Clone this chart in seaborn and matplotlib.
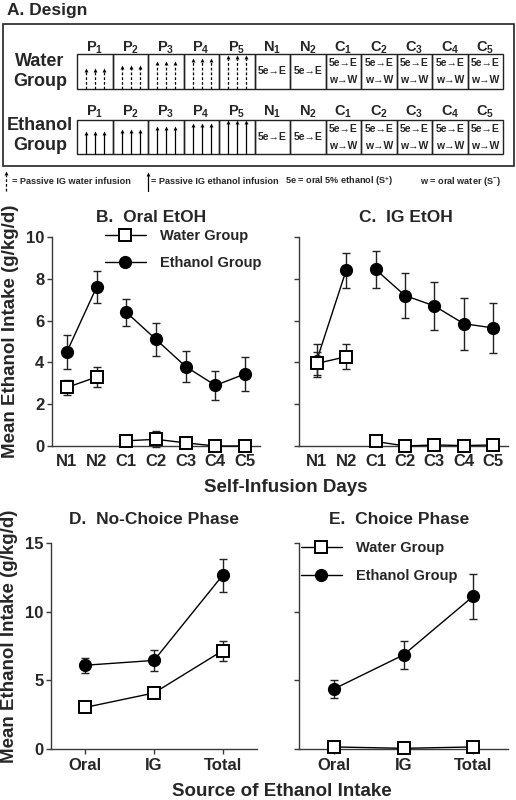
import numpy as np
import pandas as pd
import matplotlib
matplotlib.use("Agg")
import matplotlib.pyplot as plt
from matplotlib.lines import Line2D
from matplotlib.patches import Rectangle
import seaborn as sns

# ---------------- data ----------------
days = ["N1", "N2", "C1", "C2", "C3", "C4", "C5"]
day_phase = ["N", "N", "C", "C", "C", "C", "C"]
sources = ["Oral", "IG", "Total"]
groups = ["Water Group", "Ethanol Group"]

oral_eth_mean = [4.5, 7.6, 6.4, 5.1, 3.8, 2.9, 3.45]
oral_eth_sem = [0.8, 0.78, 0.65, 0.78, 0.73, 0.68, 0.8]
oral_wat_mean = [2.8, 3.3, 0.25, 0.32, 0.15, 0.0, 0.0]
oral_wat_sem = [0.35, 0.47, 0.1, 0.38, 0.1, 0.0, 0.0]

ig_eth_mean = [4.08, 8.4, 8.45, 7.2, 6.7, 5.85, 5.65]
ig_eth_sem = [0.78, 0.85, 0.88, 1.08, 1.13, 1.24, 1.2]
ig_wat_mean = [3.95, 4.27, 0.22, 0.0, 0.05, 0.02, 0.05]
ig_wat_sem = [0.53, 0.6, 0.0, 0.0, 0.0, 0.0, 0.0]

nochoice_eth_mean = [6.1, 6.45, 12.65]
nochoice_eth_sem = [0.53, 0.75, 1.2]
nochoice_wat_mean = [3.03, 4.08, 7.16]
nochoice_wat_sem = [0.2, 0.25, 0.74]

choice_eth_mean = [4.37, 6.85, 11.12]
choice_eth_sem = [0.62, 1.0, 1.63]
choice_wat_mean = [0.15, 0.05, 0.15]
choice_wat_sem = [0.1, 0.05, 0.1]

design_cols = [r"$\mathbf{P_1}$", r"$\mathbf{P_2}$", r"$\mathbf{P_3}$", r"$\mathbf{P_4}$",
               r"$\mathbf{P_5}$", r"$\mathbf{N_1}$", r"$\mathbf{N_2}$", r"$\mathbf{C_1}$",
               r"$\mathbf{C_2}$", r"$\mathbf{C_3}$", r"$\mathbf{C_4}$", r"$\mathbf{C_5}$"]

# ---------------- style ----------------
sns.set_style("ticks")
plt.rcParams["font.family"] = ["Liberation Sans", "DejaVu Sans"]
plt.rcParams["font.weight"] = "bold"
plt.rcParams["mathtext.fontset"] = "custom"
plt.rcParams["mathtext.bf"] = "Liberation Sans:bold"
plt.rcParams["mathtext.rm"] = "Liberation Sans:bold"
plt.rcParams["mathtext.it"] = "Liberation Sans:bold"

W, H = 516, 800
fig = plt.figure(figsize=(W / 100, H / 100), dpi=100)
fig.patch.set_facecolor("white")

AX_COL = "#3a3a3a"


def T(x, y, s, **kw):
    return fig.text(x / W, 1 - y / H, s, **kw)


def add_ax(left, right, top, bottom):
    return fig.add_axes([left / W, 1 - bottom / H, (right - left) / W, (bottom - top) / H])


sq_kw = dict(marker="s", markersize=8, markerfacecolor="white",
             markeredgecolor="black", markeredgewidth=1.4)
ci_kw = dict(marker="o", markersize=8.5, markerfacecolor="black",
             markeredgecolor="black", markeredgewidth=1.0)


def draw_series(ax, n, mean, sem, phase, mkw, z):
    df = pd.DataFrame({"x": np.arange(n), "y": mean, "phase": phase})
    ax.errorbar(df["x"], df["y"], yerr=sem, fmt="none", ecolor="#222222",
                elinewidth=1.0, capsize=3, capthick=1.0, zorder=z - 1, clip_on=False)
    for _, sub in df.groupby("phase", sort=False):
        sns.lineplot(data=sub, x="x", y="y", ax=ax, estimator=None, color="black",
                     linewidth=1.0, legend=False, zorder=z, clip_on=False, **mkw)


def style_ax(ax, ylim, yticks, ylabels, xlabels, xlim, xticks_len):
    ax.set_xlim(*xlim)
    ax.set_ylim(*ylim)
    ax.set_yticks(yticks)
    ax.set_yticklabels(ylabels)
    ax.set_xticks(range(len(xlabels)))
    ax.set_xticklabels(xlabels)
    ax.set_xlabel("")
    ax.set_ylabel("")
    for s in ["top", "right"]:
        ax.spines[s].set_visible(False)
    for s in ["left", "bottom"]:
        ax.spines[s].set_color(AX_COL)
        ax.spines[s].set_linewidth(1.0)
    ax.tick_params(axis="y", direction="out", length=3.5, width=1.0, color=AX_COL,
                   labelsize=12, pad=2)
    ax.tick_params(axis="x", direction="out", length=xticks_len, width=1.0, color=AX_COL,
                   labelsize=12, pad=3 if xticks_len else 6)
    for lab in ax.get_xticklabels() + ax.get_yticklabels():
        lab.set_fontweight("bold")
    ax.set_facecolor("none")


# ---------------- panel B ----------------
axB = add_ax(52, 260, 237, 446)
draw_series(axB, 7, oral_eth_mean, oral_eth_sem, day_phase, ci_kw, 3)
draw_series(axB, 7, oral_wat_mean, oral_wat_sem, day_phase, sq_kw, 5)
style_ax(axB, (0, 10), [0, 2, 4, 6, 8, 10], ["0", "2", "4", "6", "8", "10"], days,
         (-0.5, 6.5), 0)

# ---------------- panel C ----------------
axC = add_ax(299, 508, 237, 446)
draw_series(axC, 7, ig_eth_mean, ig_eth_sem, day_phase, ci_kw, 3)
draw_series(axC, 7, ig_wat_mean, ig_wat_sem, day_phase, sq_kw, 5)
style_ax(axC, (0, 10), [0, 2, 4, 6, 8, 10], [""] * 6, days, (-0.6, 6.5), 0)

# ---------------- panel D ----------------
axD = add_ax(51, 257, 543, 749)
src_phase = ["a", "a", "a"]
draw_series(axD, 3, nochoice_eth_mean, nochoice_eth_sem, src_phase, ci_kw, 3)
draw_series(axD, 3, nochoice_wat_mean, nochoice_wat_sem, src_phase, sq_kw, 5)
style_ax(axD, (0, 15), [0, 5, 10, 15], ["0", "5", "10", "15"], sources, (-0.5, 2.5), 3.5)

# ---------------- panel E ----------------
axE = add_ax(299, 508, 543, 749)
draw_series(axE, 3, choice_eth_mean, choice_eth_sem, src_phase, ci_kw, 3)
draw_series(axE, 3, choice_wat_mean, choice_wat_sem, src_phase, sq_kw, 5)
style_ax(axE, (0, 15), [0, 5, 10, 15], [""] * 4, sources, (-0.5, 2.5), 3.5)

# legends
handles = [Line2D([], [], color="black", lw=1.0, **sq_kw),
           Line2D([], [], color="black", lw=1.0, **ci_kw)]
for ax, (lx, ly), sp in [(axB, (105, 229), 0.9), (axE, (301, 541), 0.95)]:
    leg = ax.legend(handles, groups, loc="upper left",
                    bbox_to_anchor=(lx / W, 1 - ly / H), bbox_transform=fig.transFigure,
                    frameon=False, borderpad=0, borderaxespad=0, handlelength=2.8,
                    handletextpad=1.0, labelspacing=sp,
                    prop={"size": 10.5, "weight": "bold"})

# titles and axis labels
T(151, 217, "B.  Oral EtOH", ha="center", va="center", fontsize=12.5, fontweight="bold")
T(406, 217, "C.  IG EtOH", ha="center", va="center", fontsize=12.5, fontweight="bold")
T(154, 520, "D.  No-Choice Phase", ha="center", va="center", fontsize=12.5, fontweight="bold")
T(399, 520, "E.  Choice Phase", ha="center", va="center", fontsize=12.5, fontweight="bold")
T(11, 331, "Mean Ethanol Intake (g/kg/d)", ha="center", va="center", rotation=90,
  fontsize=13.5, fontweight="bold")
T(10, 636, "Mean Ethanol Intake (g/kg/d)", ha="center", va="center", rotation=90,
  fontsize=13.5, fontweight="bold")
T(286, 488, "Self-Infusion Days", ha="center", va="center", fontsize=13.5, fontweight="bold")
T(282, 791, "Source of Ethanol Intake", ha="center", va="center", fontsize=13.5,
  fontweight="bold")

# ---------------- panel A (design schematic) ----------------
axA = fig.add_axes([0, 1 - 200 / H, 1, 200 / H])
axA.set_xlim(0, W)
axA.set_ylim(200, 0)
axA.axis("off")

axA.text(7, 10, "A. Design", ha="left", va="center", fontsize=12.5, fontweight="bold")
axA.add_patch(Rectangle((3, 24), 511, 142, fill=False, lw=1.2, ec="#222222"))

cell_w = 35.5
x0 = 77
rows = [("Water", "Group", 54, 89, 48, True, [70, 66.7, 63.3, 60, 57.3]),
        ("Ethanol", "Group", 120, 154, 112, False, [133.3, 131, 128.3, 125, 122.3])]
for l1, l2, top, bot, lab_y, dashed, tops in rows:
    axA.text(40, top + 7 if dashed else top + 6, l1, ha="center", va="center",
             fontsize=13, fontweight="bold")
    axA.text(40, top + 27 if dashed else top + 26, l2, ha="center", va="center",
             fontsize=13, fontweight="bold")
    for i in range(12):
        cx = x0 + i * cell_w
        axA.add_patch(Rectangle((cx, top), cell_w, bot - top, fill=False, lw=1.0,
                                ec="#222222"))
        axA.text(cx + cell_w / 2, lab_y, design_cols[i], ha="center", va="center",
                 fontsize=10.5)
        if i < 5:
            for off in (9, 18, 27):
                ax_x = cx + off
                axA.plot([ax_x, ax_x], [bot, tops[i] + 1.5], color="black", lw=0.9,
                         ls=(0, (2.2, 1.6)) if dashed else "-")
                axA.plot([ax_x], [tops[i]], marker="^", ms=2.8, color="black", mew=0)
        elif i < 7:
            axA.text(cx + cell_w / 2, (top + bot) / 2, "5e→E", ha="center", va="center",
                     fontsize=7.5, fontweight="bold")
        else:
            axA.text(cx + cell_w / 2, top + 9, "5e→E", ha="center", va="center",
                     fontsize=7.5, fontweight="bold")
            axA.text(cx + cell_w / 2, top + 26, "w→W", ha="center", va="center",
                     fontsize=7.5, fontweight="bold")

# key row
axA.plot([6, 6], [191, 175], color="black", lw=0.9, ls=(0, (2.2, 1.6)))
axA.plot([6], [173], marker="^", ms=2.8, color="black", mew=0)
axA.text(12, 181, "= Passive IG water infusion", ha="left", va="center", fontsize=6.6,
         fontweight="bold")
axA.plot([148, 148], [191, 176], color="black", lw=0.9)
axA.plot([148], [174], marker="^", ms=2.8, color="black", mew=0)
axA.text(151, 181, "= Passive IG ethanol infusion", ha="left", va="center", fontsize=6.6,
         fontweight="bold")
axA.text(285, 181, r"5e = oral 5% ethanol (S$^{+}$)", ha="left", va="center",
         fontsize=6.6, fontweight="bold")
axA.text(420, 181, r"w = oral water (S$^{-}$)", ha="left", va="center", fontsize=6.6,
         fontweight="bold")

fig.savefig("out.png", dpi=100, facecolor="white")
